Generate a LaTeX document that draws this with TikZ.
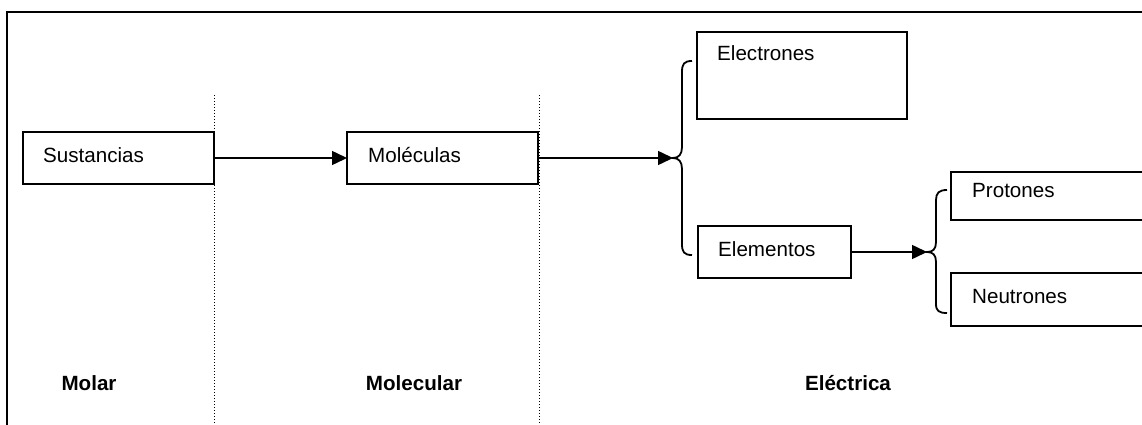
\documentclass[tikz,border=0pt]{standalone}
\usepackage{fontspec}
\setmainfont{Liberation Sans}
\usetikzlibrary{arrows.meta}
\begin{document}
\begin{tikzpicture}[x=1pt,y=-1pt,
  every node/.style={font=\fontsize{20.6}{24}\selectfont},
  box/.style={draw,line width=1.8pt,anchor=north west,outer sep=0pt,inner sep=0pt},
  txt/.style={anchor=base west,inner sep=0pt},
  level/.style={anchor=base,inner sep=0pt,font=\fontsize{20.6}{24}\selectfont\bfseries},
  link/.style={line width=1.5pt,-{Triangle[length=15pt,width=14pt]}},
  brace/.style={line width=1.8pt},
  divider/.style={dotted,line width=1pt}]
\useasboundingbox (0,0) rectangle (1142,425);
% frame
\draw[line width=2.6pt] (7,425) -- (7,12) -- (1145,12);
% level dividers
\draw[divider] (214,95) -- (214,425);
\draw[divider] (539,95) -- (539,425);
% boxes
\node[box,minimum width=191pt,minimum height=52pt] (sus) at (23,132) {};
\node[box,minimum width=191pt,minimum height=52pt] (mol) at (347,132) {};
\node[box,minimum width=210pt,minimum height=87pt] (ele) at (697,32) {};
\node[box,minimum width=153pt,minimum height=52pt] (elem) at (698,226) {};
\node[box,minimum width=192pt,minimum height=48pt] (pro) at (951,172) {};
\node[box,minimum width=192pt,minimum height=53pt] (neu) at (951,273) {};
% box texts
\node[txt] (tsus) at (43,162) {Sustancias};
\node[txt] (tmol) at (368,162) {Moléculas};
\node[txt] (tele) at (717,61) {Electrones};
\node[txt] (telem) at (718,256) {Elementos};
\node[txt] (tpro) at (972,197) {Protones};
\node[txt] (tneu) at (972,303) {Neutrones};
% brace tips
\coordinate (btip) at (673,158);
\coordinate (stip) at (927,252);
% braces
\draw[brace] (692,61) .. controls (684,61) and (682,64) .. (682,72) -- (682,147)
  .. controls (682,154) and (679,158) .. (btip)
  .. controls (679,158) and (682,162) .. (682,169) -- (682,244)
  .. controls (682,252) and (684,255) .. (692,255);
\draw[brace] (947,190) .. controls (939,190) and (936,193) .. (936,200) -- (936,242)
  .. controls (936,249) and (933,252) .. (stip)
  .. controls (933,252) and (936,255) .. (936,262) -- (936,304)
  .. controls (936,311) and (939,313) .. (947,313);
% connectors
\draw[link] (sus.east) -- (mol.west);
\draw[link] (mol.east) -- (btip);
\draw[link] (elem.east) -- (stip);
% level labels
\node[level] (lmolar) at (89,390) {Molar};
\node[level] (lmolec) at (414,390) {Molecular};
\node[level] (lelec) at (848,390) {Eléctrica};
\end{tikzpicture}
\end{document}
